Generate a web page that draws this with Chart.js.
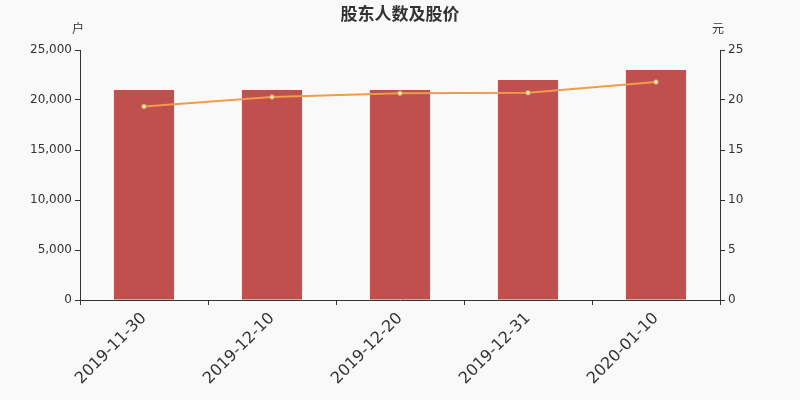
<!DOCTYPE html>
<html>
<head>
<meta charset="utf-8">
<script src="https://cdn.jsdelivr.net/npm/chart.js@4/dist/chart.umd.min.js"></script>
<style>
html,body{margin:0;padding:0;background:#f9f9f9;}
#wrap{width:800px;height:400px;}
</style>
</head>
<body>
<div id="wrap"><canvas id="c" width="800" height="400"></canvas></div>
<script>
const categories = ['2019-11-30','2019-12-10','2019-12-20','2019-12-31','2020-01-10'];
const holders = [21000, 21000, 21000, 22000, 23000];
const prices = [19.35, 20.3, 20.67, 20.72, 21.8];
const leftTicks = [0, 5000, 10000, 15000, 20000, 25000];
const rightTicks = [0, 5, 10, 15, 20, 25];
const titleText = '股东人数及股价';
const leftUnit = '户';
const rightUnit = '元';

const FONT = 'DejaVu Sans, sans-serif';
const textColor = '#333333';

const overlay = {
  id: 'overlay',
  afterDraw(chart) {
    const ctx = chart.ctx;
    const a = chart.chartArea;
    ctx.save();
    ctx.fillStyle = textColor;
    ctx.textAlign = 'center';
    ctx.textBaseline = 'middle';
    ctx.font = 'bold 17px "Noto Sans CJK SC", sans-serif';
    ctx.fillText(titleText, (a.left + a.right) / 2, 14);
    ctx.font = '12px "Noto Sans CJK SC", sans-serif';
    ctx.fillText(leftUnit, a.left - 2, 28);
    ctx.fillText(rightUnit, a.right - 2, 28);
    ctx.restore();
  }
};

const bg = {
  id: 'bg',
  beforeDraw(chart) {
    const ctx = chart.ctx;
    ctx.save();
    ctx.fillStyle = '#f9f9f9';
    ctx.fillRect(0, 0, chart.width, chart.height);
    ctx.restore();
  }
};

new Chart(document.getElementById('c'), {
  data: {
    labels: categories,
    datasets: [
      {
        type: 'line',
        data: prices,
        yAxisID: 'y1',
        borderColor: '#f39a4b',
        borderWidth: 2,
        pointRadius: 2.2,
        pointBackgroundColor: '#fff3e0',
        pointBorderColor: '#f39a4b',
        pointBorderWidth: 1,
        tension: 0,
        order: 0
      },
      {
        type: 'bar',
        data: holders,
        yAxisID: 'y',
        backgroundColor: '#c0504d',
        categoryPercentage: 1,
        barPercentage: 0.47,
        order: 1
      }
    ]
  },
  options: {
    responsive: false,
    animation: false,
    events: [],
    layout: { padding: { top: 50, left: 0, right: 0, bottom: 0 } },
    plugins: { legend: { display: false }, title: { display: false }, tooltip: { enabled: false } },
    scales: {
      x: {
        offset: true,
        grid: { offset: true, drawOnChartArea: false, drawTicks: true, tickLength: 5, color: textColor },
        border: { color: textColor, width: 1 },
        ticks: { color: textColor, font: { family: FONT, size: 16 }, minRotation: 45, maxRotation: 45, padding: 4 },
        afterFit(s) { s.height = 100; }
      },
      y: {
        position: 'left',
        min: 0, max: 25000,
        afterBuildTicks(s) { s.ticks = leftTicks.map(v => ({ value: v })); },
        grid: { drawOnChartArea: false, drawTicks: true, tickLength: 5, color: textColor },
        border: { color: textColor, width: 1 },
        ticks: { color: textColor, font: { family: FONT, size: 12 }, padding: 3,
          callback: v => v.toLocaleString('en-US') },
        afterFit(s) { s.width = 80; }
      },
      y1: {
        position: 'right',
        min: 0, max: 25,
        afterBuildTicks(s) { s.ticks = rightTicks.map(v => ({ value: v })); },
        grid: { drawOnChartArea: false, drawTicks: true, tickLength: 5, color: textColor },
        border: { color: textColor, width: 1 },
        ticks: { color: textColor, font: { family: FONT, size: 12 }, padding: 3 },
        afterFit(s) { s.width = 80; }
      }
    }
  },
  plugins: [bg, overlay]
});
</script>
</body>
</html>
